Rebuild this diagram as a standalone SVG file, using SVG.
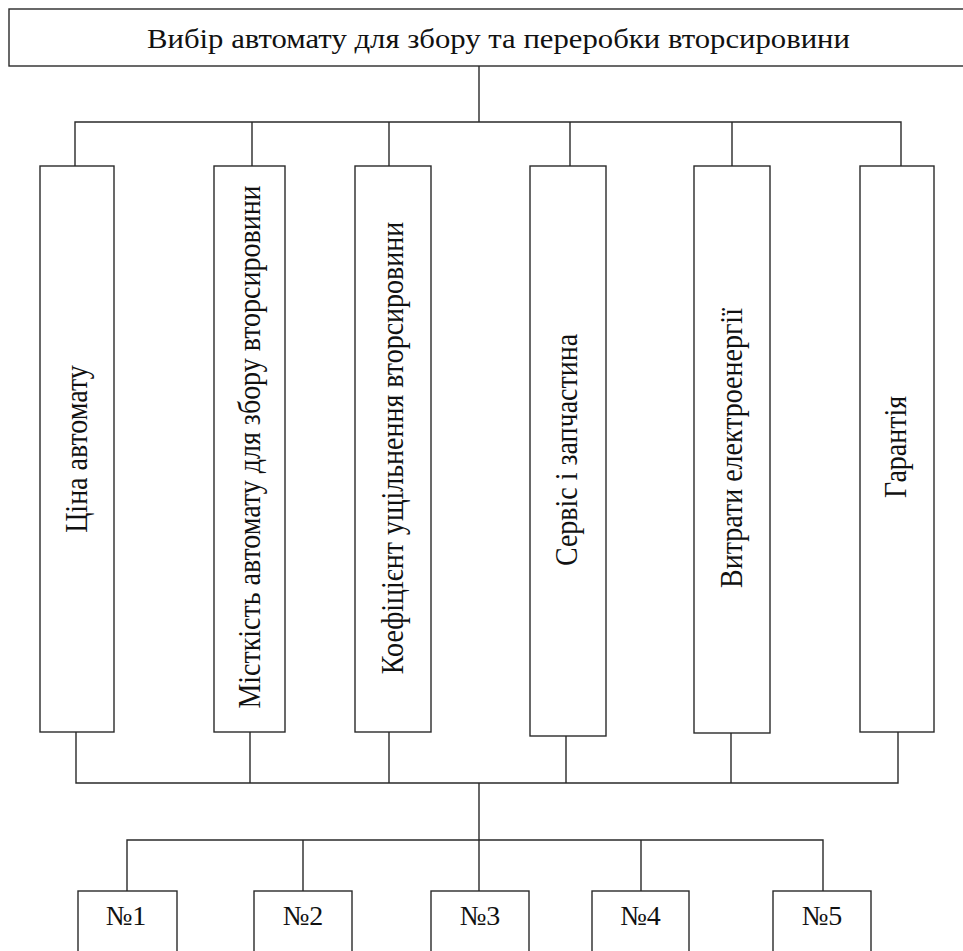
<svg xmlns="http://www.w3.org/2000/svg" width="963" height="951" viewBox="0 0 963 951">
<style>
.box{fill:#fff;stroke:#2a2a2a;stroke-width:1.4}
.ln{fill:none;stroke:#2a2a2a;stroke-width:1.4}
</style>
<rect width="963" height="951" fill="#fff"/>
<g id="connectors">
<path class="ln" d="M479 66V122M75 166V122H901V166M252 122V166M389 122V166M570 122V166M732 122V166"/>
<path class="ln" d="M76 732V783H898V732M250 732V783M389 732V783M566 736V783M731 733V783"/>
<path class="ln" d="M479 783V891M127 891V840H823V891M303 840V891M641 840V891"/>
</g>
<g font-family="Liberation Serif, DejaVu Serif, serif" font-size="28" fill="#111" text-anchor="middle">
<g id="root">
<rect class="box" x="9" y="9" width="965" height="57"/>
<text x="498.5" y="48" textLength="703" lengthAdjust="spacingAndGlyphs">Вибір автомату для збору та переробки вторсировини</text>
</g>
<g id="c1">
<rect class="box" x="40" y="166" width="74" height="566"/>
<text transform="translate(77,449) scale(1.09,1) rotate(-90)" dy="0.33em">Ціна автомату</text>
</g>
<g id="c2">
<rect class="box" x="214" y="166" width="71" height="566"/>
<text transform="translate(249.5,447) scale(1.09,1) rotate(-90)" dy="0.33em">Місткість автомату для збору вторсировини</text>
</g>
<g id="c3">
<rect class="box" x="355" y="166" width="76" height="566"/>
<text transform="translate(393,448) scale(1.09,1) rotate(-90)" dy="0.33em">Коефіцієнт ущільнення вторсировини</text>
</g>
<g id="c4">
<rect class="box" x="530" y="166" width="76" height="570"/>
<text transform="translate(567,450) scale(1.09,1) rotate(-90)" dy="0.33em">Сервіс і запчастина</text>
</g>
<g id="c5">
<rect class="box" x="694" y="166" width="76" height="567"/>
<text transform="translate(732,448) scale(1.09,1) rotate(-90)" dy="0.33em">Витрати електроенергії</text>
</g>
<g id="c6">
<rect class="box" x="860" y="166" width="74" height="566"/>
<text transform="translate(896,447) scale(1.09,1) rotate(-90)" dy="0.33em">Гарантія</text>
</g>
<g id="n1">
<rect class="box" x="78" y="891" width="99" height="70"/>
<text x="126" y="925">№1</text>
</g>
<g id="n2">
<rect class="box" x="254" y="891" width="98" height="70"/>
<text x="303" y="925">№2</text>
</g>
<g id="n3">
<rect class="box" x="431" y="891" width="98" height="70"/>
<text x="480" y="925">№3</text>
</g>
<g id="n4">
<rect class="box" x="592" y="891" width="97" height="70"/>
<text x="640.5" y="925">№4</text>
</g>
<g id="n5">
<rect class="box" x="773" y="891" width="98" height="70"/>
<text x="822" y="925">№5</text>
</g>
</g>
</svg>
